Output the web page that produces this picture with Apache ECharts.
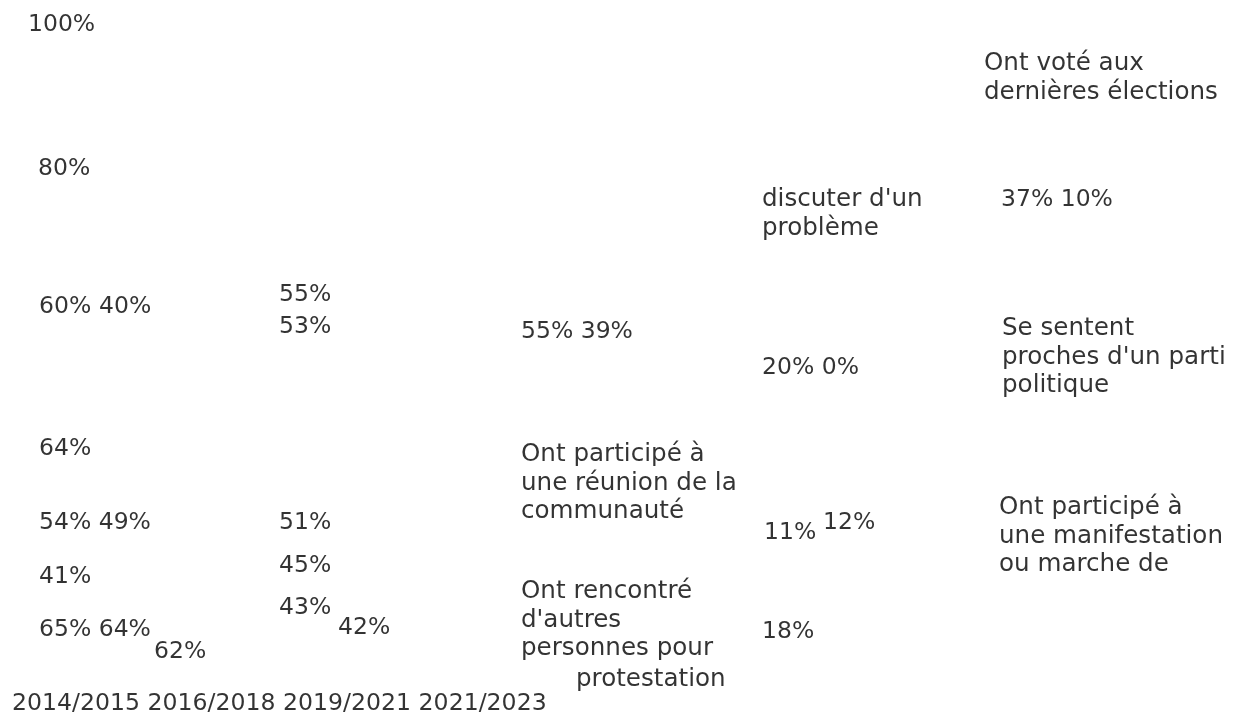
<!DOCTYPE html>
<html>
<head>
<meta charset="utf-8">
<script src="https://cdn.jsdelivr.net/npm/echarts@6/dist/echarts.min.js"></script>
<style>
html,body{margin:0;padding:0;background:#fff;}
#chart{width:1243px;height:720px;}
</style>
</head>
<body>
<div id="chart"></div>
<script>
// periodes et graduations
var periods = ['2014/2015', '2016/2018', '2019/2021', '2021/2023'];
var axisTicks = ['100%', '80%', '60%'];

// libelles des indicateurs (tels qu'ils apparaissent, coupes)
var indicators = [
    'Ont voté aux\ndernières élections',
    'Se sentent\nproches d\'un parti\npolitique',
    'Ont participé à\nune réunion de la\ncommunauté',
    'Ont rencontré\nd\'autres\npersonnes pour',
    'discuter d\'un\nproblème',
    'Ont participé à\nune manifestation\nou marche de',
    'protestation'
];

// valeurs affichees
var valueLabels = [
    '40%', '55%', '53%', '55% 39%', '37% 10%', '20% 0%',
    '64%', '54% 49%', '51%', '11%', '12%',
    '41%', '45%', '43%', '42%', '65% 64%', '62%', '18%'
];

// mise en page (ancre gauche, centre de la premiere ligne)
var tickPos = [[28, 25], [38, 169], [39, 307]];
var indicatorPos = [[984, 64], [1002, 329], [521, 455], [521, 592], [762, 200], [999, 508], [576, 680]];
var valuePos = [
    [99, 307], [279, 295], [279, 327], [521, 332], [1001, 200], [762, 368],
    [39, 449], [39, 523], [279, 523], [764, 533], [823, 523],
    [39, 577], [279, 566], [279, 608], [338, 628], [39, 630], [154, 652], [762, 632]
];
var periodPos = [12, 704];

var points = [];
function add(pos, txt, size) {
    points.push({value: [pos[0], pos[1]], name: txt, label: {fontSize: size}});
}
axisTicks.forEach(function (t, i) { add(tickPos[i], t, 23.5); });
valueLabels.forEach(function (t, i) { add(valuePos[i], t, 23.5); });
indicators.forEach(function (t, i) { add(indicatorPos[i], t, 24.6); });
add(periodPos, periods.join(' '), 23.6);

var chart = echarts.init(document.getElementById('chart'));
var option = {
    animation: false,
    backgroundColor: '#ffffff',
    grid: {left: 0, right: 0, top: 0, bottom: 0},
    xAxis: {type: 'value', min: 0, max: 1243, show: false},
    yAxis: {type: 'value', min: 0, max: 720, inverse: true, show: false},
    series: [{
        type: 'scatter',
        symbolSize: 0,
        silent: true,
        data: points,
        label: {
            show: true,
            position: [0, 0],
            align: 'left',
            verticalAlign: 'top',
            offset: [0, -14.25],
            lineHeight: 28.5,
            fontFamily: 'DejaVu Sans',
            fontSize: 23.5,
            color: '#000000',
            formatter: function (p) { return p.name; }
        }
    }]
};
chart.setOption(option);
</script>
</body>
</html>
